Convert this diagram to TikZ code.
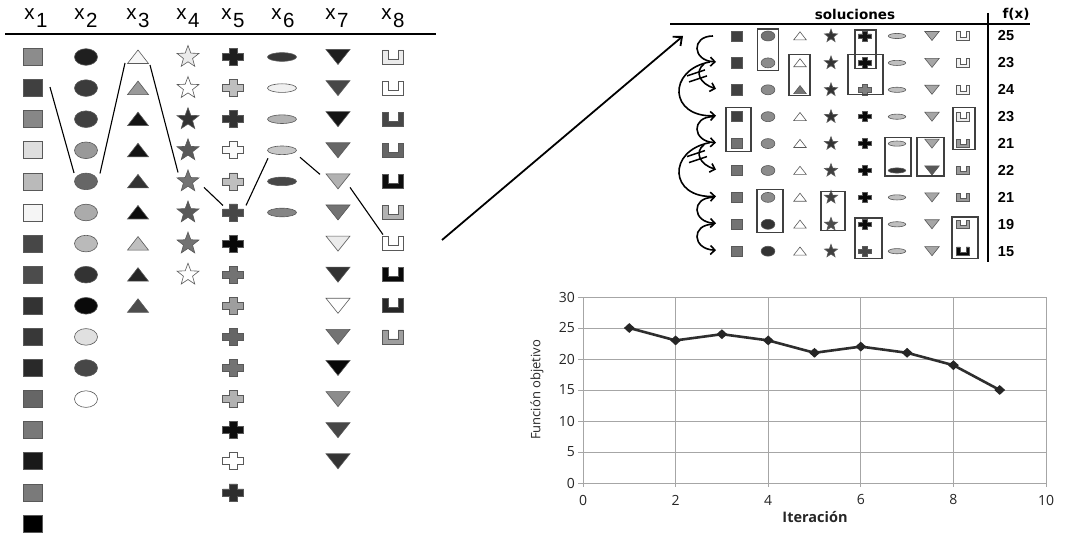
\documentclass[tikz,border=0pt]{standalone}
\usepackage{fontspec}
\setmainfont{Liberation Sans}
\newfontfamily\chartfont{Open Sans}
\newfontfamily\widefont{DejaVu Sans}
\usetikzlibrary{calc,arrows.meta,shapes.geometric}
\tikzset{
 shp/.style={draw=black!65, line width=0.6pt},
 pics/psq/.style={code={\path[shp,fill=#1] (-9.5,-8.5) rectangle (9.5,8.5);}},
 pics/pci/.style={code={\path[shp,fill=#1] (0,0) ellipse [x radius=11.5, y radius=8.3];}},
 pics/ptu/.style={code={\path[shp,fill=#1] (0,-7) -- (10.5,6.5) -- (-10.5,6.5) -- cycle;}},
 pics/pst/.style={code={\path[shp,fill=#1] (-90:11.5) -- (-54:4.8) -- (-18:11.5) -- (18:4.8) -- (54:11.5) -- (90:4.8) -- (126:11.5) -- (162:4.8) -- (198:11.5) -- (234:4.8) -- cycle;}},
 pics/pcr/.style={code={\path[shp,fill=#1] (-4,-8.5) -- (4,-8.5) -- (4,-3.5) -- (10.5,-3.5) -- (10.5,3.5) -- (4,3.5) -- (4,8.5) -- (-4,8.5) -- (-4,3.5) -- (-10.5,3.5) -- (-10.5,-3.5) -- (-4,-3.5) -- cycle;}},
 pics/pel/.style={code={\path[shp,fill=#1] (0,0) ellipse [x radius=14.5, y radius=4.3];}},
 pics/ptd/.style={code={\path[shp,fill=#1] (-12,-7.5) -- (12,-7.5) -- (0,7.5) -- cycle;}},
 pics/pu/.style={code={\path[shp,fill=#1] (-10.5,-7) -- (-10.5,7) -- (10.5,7) -- (10.5,-7) -- (5,-7) -- (5,2) -- (-5,2) -- (-5,-7) -- cycle;}},
 hdr/.style={font=\fontsize{20.5}{20.5}\selectfont, inner sep=0pt, anchor=base},
 link/.style={line width=1.1pt, black},
 box/.style={draw=black!75, line width=1.1pt},
 curv/.style={line width=1.6pt, -{Straight Barb[length=4.5pt,width=9pt]}},
 strike/.style={line width=1.5pt},
 bigarrow/.style={line width=1.8pt, -{Straight Barb[length=7pt,width=12pt]}},
 tbltxt/.style={font=\widefont\fontsize{13.5}{13.5}\selectfont\bfseries, inner sep=0pt},
 numtxt/.style={font=\fontsize{14.5}{14.5}\selectfont\bfseries, inner sep=0pt},
 gline/.style={draw=black!35, line width=0.8pt},
 tick/.style={font=\chartfont\fontsize{14}{14}\selectfont, text=black!85, inner sep=0pt},
 dataline/.style={line width=2.6pt, black!82, line join=round},
 dmk/.style={diamond, fill=black!85, inner sep=0pt, minimum width=11pt, minimum height=10pt},
}
\newcommand\colL[4]{\foreach \v [count=\r] in {#4} {\coordinate (L-#1-\r) at (#2,{57+31.1*(\r-1)}); \pic at (L-#1-\r) {#3=black!\v};}}
\newcommand\colT[4]{\foreach \v [count=\r] in {#4} {\coordinate (T-#1-\r) at (#2,{36+26.9*(\r-1)}); \pic[scale=0.6] at (T-#1-\r) {#3=black!\v};}}
\begin{document}
\begin{tikzpicture}[x=1pt,y=-1pt]
\useasboundingbox (0,0) rectangle (1069,534);
\fill[white] (0,0) rectangle (1069,534);

% ---------- left panel ----------
\foreach \i/\x in {1/36,2/86,3/138,4/188,5/233,6/283,7/337,8/393}
  \node[hdr] (h\i) at (\x,20) {x\kern1.5pt\raisebox{-8pt}{\i}};
\draw[line width=2.5pt] (5,34) -- (436,34);

\colL{1}{33}{psq}{45,75,47,13,27,4,72,70,80,78,84,60,53,90,52,100}
\colL{2}{86}{pci}{88,77,75,40,60,33,27,80,96,12,72,0}
\colL{3}{138}{ptu}{3,40,92,92,80,95,25,85,70}
\colL{4}{188}{pst}{8,0,80,65,55,65,55,0}
\colL{5}{233}{pcr}{88,25,80,2,25,72,97,55,38,60,55,30,95,0,82}
\colL{6}{282}{pel}{78,6,30,22,72,48}
\colL{7}{338}{ptd}{88,72,92,60,30,55,8,80,0,55,97,45,72,80}
\colL{8}{393}{pu}{8,0,72,60,95,30,0,97,85,38}

\draw[link] ($(L-1-2)+(17,-1)$) -- ($(L-2-5)+(-12,-8.5)$);
\draw[link] ($(L-2-5)+(14,-8)$) -- ($(L-3-1)+(-13,6)$);
\draw[link] ($(L-3-1)+(12,8)$) -- ($(L-4-5)+(-10,-9)$);
\draw[link] ($(L-4-5)+(16,6)$) -- ($(L-5-6)+(-10,-7)$);
\draw[link] ($(L-5-6)+(13,-7)$) -- ($(L-6-4)+(-14,8)$);
\draw[link] ($(L-6-4)+(18,7)$) -- ($(L-7-5)+(-18,-7)$);
\draw[link] ($(L-7-5)+(12,6)$) -- ($(L-8-7)+(-10,-9)$);

% ---------- big arrow ----------
\coordinate (bigS) at (442,240);
\coordinate (bigE) at (683,36);
\draw[bigarrow] (bigS) -- (bigE);

% ---------- table ----------
\node[tbltxt] (sol) at (855,14) {soluciones};
\node[tbltxt] (fx) at (1016,14) {f(x)};
\draw[line width=2pt] (670,24) -- (1030,24);
\draw[line width=2pt] (988,13) -- (988,262);

\colT{1}{737}{psq}{75,75,75,75,55,55,55,55,55}
\colT{2}{768}{pci}{55,45,45,45,45,45,45,80,80}
\colT{3}{800}{ptu}{0,0,55,0,0,0,0,0,0}
\colT{4}{831}{pst}{80,80,80,80,80,75,75,70,75}
\colT{5}{865}{pcr}{92,95,50,97,97,97,97,95,72}
\colT{6}{897}{pel}{25,25,25,25,25,80,25,25,25}
\colT{7}{932}{ptd}{35,35,35,35,35,65,35,35,35}
\colT{8}{963}{pu}{5,5,5,8,40,40,40,35,97}

\foreach \f [count=\r] in {25,23,24,23,21,22,21,19,15}
  \node[numtxt] (f\r) at (1006,{36+26.9*(\r-1)}) {\f};

\draw[box] ($(T-2-1)+(-10.5,-7)$) rectangle ($(T-2-2)+(10.5,8)$);
\draw[box] ($(T-3-2)+(-11,-8)$) rectangle ($(T-3-3)+(10,6)$);
\draw[box] ($(T-5-1)+(-10,-6)$) rectangle ($(T-5-2)+(11,6)$);
\draw[box] ($(T-5-2)+(-17,-8)$) rectangle ($(T-5-3)+(18,5)$);
\draw[box] ($(T-1-4)+(-11,-9)$) rectangle ($(T-1-5)+(14,8)$);
\draw[box] ($(T-8-4)+(-10,-9.5)$) rectangle ($(T-8-5)+(12,5.5)$);
\draw[box] ($(T-6-5)+(-12,-6.5)$) rectangle ($(T-6-6)+(14,5.5)$);
\draw[box] ($(T-7-5)+(-15,-6.5)$) rectangle ($(T-7-6)+(12,5.5)$);
\draw[box] ($(T-2-7)+(-11,-7.5)$) rectangle ($(T-2-8)+(15,8)$);
\draw[box] ($(T-4-7)+(-10,-5.5)$) rectangle ($(T-4-8)+(14,6)$);
\draw[box] ($(T-5-8)+(-10,-6.3)$) rectangle ($(T-5-9)+(17,7)$);
\draw[box] ($(T-8-8)+(-11,-7.3)$) rectangle ($(T-8-9)+(15,7)$);

% curved moves
\foreach \a/\b in {1/2,4/5,7/8,8/9}
  \draw[curv] ($(T-1-\a)+(-24,0)$) .. controls ($(T-1-\a)+(-46,0)$) and ($(T-1-\b)+(-45,-2)$) .. ($(T-1-\b)+(-21,-1)$);
\foreach \a/\b in {2/4,5/7}
  \draw[curv] ($(T-1-\a)+(-27,-1)$) .. controls ($(T-1-\a)+(-70,7)$) and ($(T-1-\b)+(-68,1)$) .. ($(T-1-\b)+(-21,-1)$);
\foreach \a/\b in {2/3,5/6}{
  \draw[curv] ($(T-1-\a)+(-33,1)$) .. controls ($(T-1-\a)+(-43,9)$) and ($(T-1-\b)+(-37,-6)$) .. ($(T-1-\b)+(-21,-1)$);
  \draw[strike] ($(T-1-\a)+(-50,13)$) -- ($(T-1-\a)+(-32,7)$);
  \draw[strike] ($(T-1-\a)+(-48,19)$) -- ($(T-1-\a)+(-30,13)$);
}

% ---------- chart ----------
\begin{scope}[shift={(583,483)}, x=46.3pt, y=6.2pt]
  \foreach \u in {0,2,...,10} \draw[gline] (\u,0) -- (\u,30);
  \foreach \w in {0,5,...,30} \draw[gline] (0,\w) -- (10,\w);
  \foreach \u in {0,2,...,10} {
    \draw[gline] (\u,0) -- ++(0,-0.7);
    \node[tick] (xt\u) at (\u,0) [yshift=-17pt] {\u};
  }
  \foreach \w in {0,5,...,30} {
    \draw[gline] (0,\w) -- ++(-0.1,0);
    \node[tick,anchor=east] (yt\w) at (0,\w) [xshift=-8pt] {\w};
  }
  \foreach \u/\w in {1/25,2/23,3/24,4/23,5/21,6/22,7/21,8/19,9/15}
    \coordinate (p\u) at (\u,\w);
  \draw[dataline] (p1) -- (p2) -- (p3) -- (p4) -- (p5) -- (p6) -- (p7) -- (p8) -- (p9);
  \foreach \u in {1,...,9} \node[dmk] (m\u) at (p\u) {};
\end{scope}
\node[tick, font=\chartfont\fontsize{13}{13}\selectfont, rotate=90] (ylab) at (537,390) {Función objetivo};
\node[tick, font=\chartfont\fontsize{14.5}{14.5}\selectfont\bfseries] (xlab) at (815,517) {Iteración};
\end{tikzpicture}
\end{document}
